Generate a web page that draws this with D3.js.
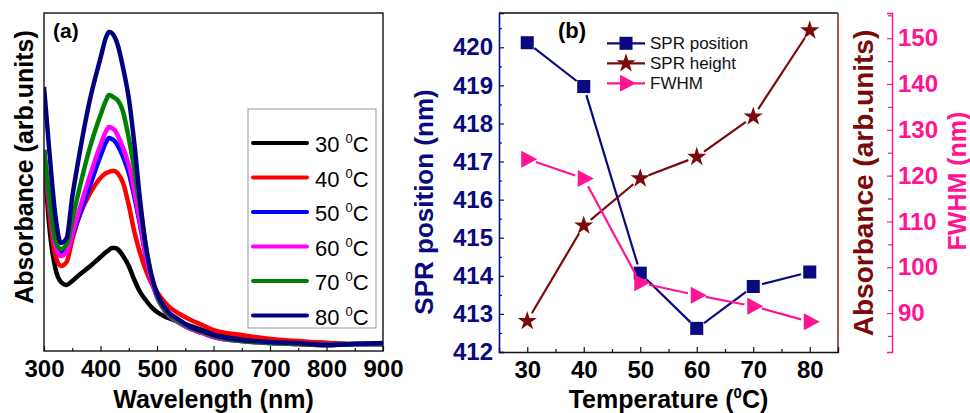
<!DOCTYPE html>
<html lang="en">
<head>
<meta charset="UTF-8">
<script src="https://d3js.org/d3.v7.min.js"></script>
<title>SPR vs temperature</title>
<style>
  body { margin: 0; background: #fff; }
  svg text { font-family: "Liberation Sans", Arial, sans-serif; }
</style>
</head>
<body>
<div id="chart"></div>
<script>
// ---- panel (a): absorbance spectra ----
const wavelengths = [300, 310, 320, 330, 340, 350, 360, 380, 400, 410, 415, 420, 425, 430, 440, 450,
    460, 470, 480, 490, 500, 520, 540, 560, 580, 600, 650, 700, 750, 800, 850, 900];
const abs30 = [1.98, 1.21, 0.83, 0.69, 0.66, 0.70, 0.75, 0.84, 0.94, 0.99, 1.01, 1.03, 1.03, 1.02, 0.95, 0.85,
    0.71, 0.59, 0.51, 0.44, 0.39, 0.33, 0.29, 0.25, 0.21, 0.18, 0.14, 0.10, 0.09, 0.08, 0.07, 0.07];
const abs40 = [2.01, 1.36, 0.96, 0.85, 0.89, 1.11, 1.31, 1.56, 1.73, 1.78, 1.79, 1.80, 1.80, 1.78, 1.68, 1.46,
    1.19, 0.98, 0.81, 0.68, 0.59, 0.45, 0.37, 0.31, 0.26, 0.21, 0.16, 0.12, 0.10, 0.08, 0.07, 0.07];
const abs50 = [2.01, 1.46, 1.08, 0.98, 1.01, 1.15, 1.31, 1.63, 1.95, 2.09, 2.13, 2.12, 2.10, 2.06, 1.94, 1.78,
    1.54, 1.26, 0.95, 0.71, 0.54, 0.36, 0.28, 0.22, 0.18, 0.14, 0.10, 0.08, 0.07, 0.06, 0.07, 0.07];
const abs60 = [2.01, 1.46, 1.06, 0.95, 0.99, 1.16, 1.36, 1.73, 2.06, 2.20, 2.24, 2.23, 2.21, 2.16, 2.03, 1.86,
    1.59, 1.29, 0.96, 0.71, 0.54, 0.36, 0.28, 0.22, 0.18, 0.14, 0.10, 0.08, 0.07, 0.06, 0.07, 0.07];
const abs70 = [2.01, 1.51, 1.11, 1.02, 1.07, 1.31, 1.56, 2.01, 2.36, 2.51, 2.56, 2.55, 2.53, 2.51, 2.39, 2.13,
    1.81, 1.44, 1.06, 0.76, 0.56, 0.37, 0.29, 0.23, 0.19, 0.15, 0.10, 0.08, 0.07, 0.06, 0.07, 0.07];
const abs80 = [2.64, 1.96, 1.36, 1.08, 1.13, 1.54, 1.88, 2.48, 2.93, 3.14, 3.19, 3.18, 3.14, 3.07, 2.83, 2.53,
    2.07, 1.51, 1.06, 0.76, 0.58, 0.39, 0.31, 0.24, 0.20, 0.16, 0.11, 0.09, 0.08, 0.06, 0.07, 0.08];
const legendTemps = [30, 40, 50, 60, 70, 80];
const wlTicks = [300, 400, 500, 600, 700, 800, 900];
const wlMinor = [350, 450, 550, 650, 750, 850];

// ---- panel (b): SPR parameters vs temperature ----
const temperatures = [30, 40, 50, 60, 70, 80];
const sprPosition = [420.12, 418.97, 414.07, 412.62, 413.72, 414.1];
const sprHeight = [1.03, 1.74, 2.09, 2.25, 2.55, 3.19];
const fwhm = [123.6, 119.4, 96.6, 93.9, 91.5, 88.1];
const tempTicks = [30, 40, 50, 60, 70, 80];
const tempMinor = [35, 45, 55, 65, 75];
const posTicks = [412, 413, 414, 415, 416, 417, 418, 419, 420];
const posMinor = [412.5, 413.5, 414.5, 415.5, 416.5, 417.5, 418.5, 419.5, 420.5];
const fwhmTicks = [90, 100, 110, 120, 130, 140, 150];
const fwhmMinor = [85, 95, 105, 115, 125, 135, 145, 155];
const seriesNames = ["SPR position", "SPR height", "FWHM"];

const W = 970, H = 413;
const svg = d3.select("#chart").append("svg").attr("width", W).attr("height", H);
svg.append("rect").attr("width", W).attr("height", H).attr("fill", "#fff");

const navy = "#0a0a80", maroon = "#7a0a0a", pink = "#ff1493";

// ===================== panel (a) =====================
const a = {left: 44, right: 383, top: 13, bottom: 351};
const xA = d3.scaleLinear().domain([300, 900]).range([a.left, a.right]);
const yA = d3.scaleLinear().domain([0, 3.38]).range([a.bottom, a.top]);

svg.append("clipPath").attr("id", "clipA").append("rect")
    .attr("x", a.left).attr("y", a.top).attr("width", a.right - a.left).attr("height", a.bottom - a.top);

const spectra = [abs30, abs40, abs50, abs60, abs70, abs80];
const specColors = ["#000000", "#ff0000", "#0000ff", "#ff00ff", "#008000", "#000080"];

const lineA = d3.line()
    .x((d, i) => xA(wavelengths[i]))
    .y(d => yA(d))
    .curve(d3.curveMonotoneX);

const gA = svg.append("g").attr("clip-path", "url(#clipA)");
spectra.forEach((s, i) => {
    gA.append("path").attr("d", lineA(s))
        .attr("fill", "none").attr("stroke", specColors[i])
        .attr("stroke-width", 4.5).attr("stroke-linejoin", "round");
});

// frame
svg.append("rect").attr("x", a.left).attr("y", a.top)
    .attr("width", a.right - a.left).attr("height", a.bottom - a.top)
    .attr("fill", "none").attr("stroke", "#111").attr("stroke-width", 1.4);

// x axis (inward ticks)
const axA = svg.append("g").attr("transform", `translate(0,${a.bottom})`)
    .call(d3.axisBottom(xA).tickValues(wlTicks).tickSize(-5).tickPadding(9));
axA.select(".domain").remove();
axA.selectAll("text").attr("font-size", 24).attr("font-weight", "bold").attr("fill", "#000")
    .style("font-family", '"Liberation Sans", Arial, sans-serif');
axA.selectAll("line").attr("stroke", "#111").attr("stroke-width", 1.2);
const axAm = svg.append("g").attr("transform", `translate(0,${a.bottom})`)
    .call(d3.axisBottom(xA).tickValues(wlMinor).tickSize(-3).tickFormat(""));
axAm.select(".domain").remove();
axAm.selectAll("line").attr("stroke", "#111").attr("stroke-width", 1.2);

svg.append("text").attr("x", (a.left + a.right) / 2).attr("y", 408)
    .attr("text-anchor", "middle").attr("font-size", 25).attr("font-weight", "bold")
    .text("Wavelength (nm)");
svg.append("text").attr("transform", `translate(33,167) rotate(-90)`)
    .attr("text-anchor", "middle").attr("font-size", 25).attr("font-weight", "bold")
    .text("Absorbance (arb.units)");
svg.append("text").attr("x", 53).attr("y", 38).attr("font-size", 21).attr("font-weight", "bold")
    .text("(a)");

// legend (a)
const legA = svg.append("g");
legA.append("rect").attr("x", 248).attr("y", 109).attr("width", 128).attr("height", 219)
    .attr("fill", "#fff").attr("stroke", "#999").attr("stroke-width", 1);
legendTemps.forEach((t, i) => {
    const y = 143 + i * 34.5;
    legA.append("line").attr("x1", 253).attr("x2", 307).attr("y1", y).attr("y2", y)
        .attr("stroke", specColors[i]).attr("stroke-width", 4).attr("stroke-linecap", "round");
    const tx = legA.append("text").attr("x", 315).attr("y", y + 9).attr("font-size", 22);
    tx.append("tspan").text(t + " ");
    tx.append("tspan").attr("font-size", 13).attr("dy", -9).text("0");
    tx.append("tspan").attr("dy", 9).text("C");
});

// ===================== panel (b) =====================
const b = {left: 499, right: 838, top: 13, bottom: 352};
const xB = d3.scaleLinear().domain([25, 85]).range([b.left, b.right]);
const yPos = d3.scaleLinear().domain([412, 420.9]).range([b.bottom, b.top]);
const yAbs = d3.scaleLinear().domain([0.8, 3.32]).range([b.bottom, b.top]);
const yF = d3.scaleLinear().domain([81.5, 155.5]).range([b.bottom, b.top]);
const fwhmX = 892;

// frame lines
svg.append("line").attr("x1", b.left).attr("x2", b.right).attr("y1", b.top).attr("y2", b.top)
    .attr("stroke", "#111").attr("stroke-width", 1.4);
svg.append("line").attr("x1", b.right).attr("x2", b.right).attr("y1", b.top).attr("y2", b.bottom)
    .attr("stroke", "#9b2a2a").attr("stroke-width", 1.6);

// bottom axis
const axB = svg.append("g").attr("transform", `translate(0,${b.bottom})`)
    .call(d3.axisBottom(xB).tickValues(tempTicks).tickSize(-5).tickPadding(9));
axB.select(".domain").attr("stroke", "#111").attr("stroke-width", 1.4);
axB.selectAll("text").attr("font-size", 24).attr("font-weight", "bold").attr("fill", "#000")
    .style("font-family", '"Liberation Sans", Arial, sans-serif');
axB.selectAll("line").attr("stroke", "#111").attr("stroke-width", 1.2);
const axBm = svg.append("g").attr("transform", `translate(0,${b.bottom})`)
    .call(d3.axisBottom(xB).tickValues(tempMinor).tickSize(-3).tickFormat(""));
axBm.select(".domain").remove();
axBm.selectAll("line").attr("stroke", "#111").attr("stroke-width", 1.2);

// left axis (SPR position)
const ayB = svg.append("g").attr("transform", `translate(${b.left},0)`)
    .call(d3.axisLeft(yPos).tickValues(posTicks).tickSize(-5).tickPadding(6));
ayB.select(".domain").attr("stroke", navy).attr("stroke-width", 1.6);
ayB.selectAll("text").attr("font-size", 24).attr("font-weight", "bold").attr("fill", navy)
    .style("font-family", '"Liberation Sans", Arial, sans-serif');
ayB.selectAll("line").attr("stroke", navy).attr("stroke-width", 1.2);
const ayBm = svg.append("g").attr("transform", `translate(${b.left},0)`)
    .call(d3.axisLeft(yPos).tickValues(posMinor).tickSize(-3).tickFormat(""));
ayBm.select(".domain").remove();
ayBm.selectAll("line").attr("stroke", navy).attr("stroke-width", 1.2);

// FWHM axis (offset right)
const afB = svg.append("g").attr("transform", `translate(${fwhmX},0)`)
    .call(d3.axisRight(yF).tickValues(fwhmTicks).tickSize(-5).tickPadding(6));
afB.select(".domain").attr("stroke", pink).attr("stroke-width", 1.4);
afB.selectAll("text").attr("font-size", 24).attr("font-weight", "bold").attr("fill", pink)
    .style("font-family", '"Liberation Sans", Arial, sans-serif');
afB.selectAll("line").attr("stroke", pink).attr("stroke-width", 1.2);
const afBm = svg.append("g").attr("transform", `translate(${fwhmX},0)`)
    .call(d3.axisRight(yF).tickValues(fwhmMinor).tickSize(-4).tickFormat(""));
afBm.select(".domain").remove();
afBm.selectAll("line").attr("stroke", pink).attr("stroke-width", 1.2);

// titles
svg.append("text").attr("transform", `translate(433,202) rotate(-90)`)
    .attr("text-anchor", "middle").attr("font-size", 26).attr("font-weight", "bold")
    .attr("fill", navy).text("SPR position (nm)");
svg.append("text").attr("transform", `translate(873,183) rotate(-90)`)
    .attr("text-anchor", "middle").attr("font-size", 28).attr("font-weight", "bold")
    .attr("fill", maroon).text("Absorbance (arb.units)");
svg.append("text").attr("transform", `translate(966,181) rotate(-90)`)
    .attr("text-anchor", "middle").attr("font-size", 25).attr("font-weight", "bold")
    .attr("fill", pink).text("FWHM (nm)");
const tt = svg.append("text").attr("x", (b.left + b.right) / 2).attr("y", 408)
    .attr("text-anchor", "middle").attr("font-size", 25).attr("font-weight", "bold");
tt.append("tspan").text("Temperature (");
tt.append("tspan").attr("font-size", 15).attr("dy", -10).text("0");
tt.append("tspan").attr("dy", 10).text("C)");
svg.append("text").attr("x", 558).attr("y", 38).attr("font-size", 22).attr("font-weight", "bold")
    .text("(b)");

// markers
const squarePath = d3.symbol().type(d3.symbolSquare).size(170)();
const starPath = d3.symbol().type(d3.symbolStar).size(115)();
const triPath = "M-6,-8.5L-6,8.5L10,0Z";

const seriesB = [
    {vals: sprPosition, y: yPos, color: navy, shape: squarePath},
    {vals: sprHeight, y: yAbs, color: maroon, shape: starPath},
    {vals: fwhm, y: yF, color: pink, shape: triPath}
];

const gap = 9;
seriesB.forEach(s => {
    const pts = s.vals.map((v, i) => [xB(temperatures[i]), s.y(v)]);
    const g = svg.append("g");
    for (let i = 0; i < pts.length - 1; i++) {
        const [x1, y1] = pts[i], [x2, y2] = pts[i + 1];
        const len = Math.hypot(x2 - x1, y2 - y1);
        const ux = (x2 - x1) / len, uy = (y2 - y1) / len;
        g.append("line")
            .attr("x1", x1 + ux * gap).attr("y1", y1 + uy * gap)
            .attr("x2", x2 - ux * gap).attr("y2", y2 - uy * gap)
            .attr("stroke", s.color).attr("stroke-width", 2.2);
    }
    g.selectAll("path").data(pts).join("path")
        .attr("d", s.shape)
        .attr("transform", d => `translate(${d[0]},${d[1]})`)
        .attr("fill", s.color);
});

// legend (b)
seriesNames.forEach((name, i) => {
    const y = 43.3 + i * 20;
    const s = seriesB[i];
    svg.append("line").attr("x1", 607).attr("x2", 645).attr("y1", y).attr("y2", y)
        .attr("stroke", s.color).attr("stroke-width", 2.2);
    svg.append("path").attr("d", s.shape).attr("transform", `translate(626,${y})`).attr("fill", s.color);
    svg.append("text").attr("x", 650).attr("y", y + 6).attr("font-size", 17).attr("fill", "#111").text(name);
});
</script>
</body>
</html>
